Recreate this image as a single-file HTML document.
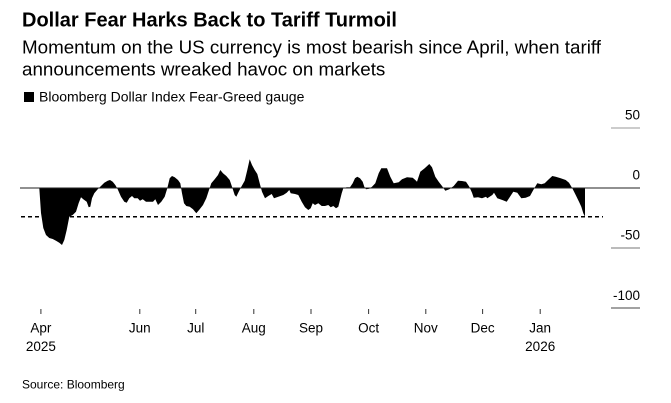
<!DOCTYPE html>
<html>
<head>
<meta charset="utf-8">
<style>
html,body{margin:0;padding:0;background:#fff;}
body{width:671px;height:403px;overflow:hidden;}
svg{display:block;}
text{font-family:"Liberation Sans",Arial,sans-serif;fill:#000;}
</style>
</head>
<body>
<svg width="671" height="403" viewBox="0 0 671 403" xmlns="http://www.w3.org/2000/svg">
  <rect x="0" y="0" width="671" height="403" fill="#fff"/>
  <!-- Title -->
  <text x="22" y="26.5" font-size="20" font-weight="bold">Dollar Fear Harks Back to Tariff Turmoil</text>
  <text x="22" y="53.5" font-size="18.8">Momentum on the US currency is most bearish since April, when tariff</text>
  <text x="22" y="75.5" font-size="18.8">announcements wreaked havoc on markets</text>
  <!-- Legend -->
  <rect x="24" y="92" width="10" height="10" fill="#000"/>
  <text x="39" y="101.5" font-size="14">Bloomberg Dollar Index Fear-Greed gauge</text>

  <!-- Right axis ticks & labels -->
  <rect x="611" y="127.5" width="29" height="1" fill="#999"/>
  <rect x="611" y="247.5" width="29" height="1" fill="#777"/>
  <rect x="611" y="307.5" width="29" height="1" fill="#444"/>
  <text x="640" y="119.5" font-size="13.5" text-anchor="end" fill="#222">50</text>
  <text x="640" y="179.5" font-size="13.5" text-anchor="end" fill="#222">0</text>
  <text x="640" y="239.5" font-size="13.5" text-anchor="end" fill="#222">-50</text>
  <text x="640" y="300" font-size="13.5" text-anchor="end" fill="#222">-100</text>

  <!-- Area -->
  <path fill="#000" d="M39.3,188 L41,213 L43.3,228 L46,235 L49.3,238 L52.7,239 L56,240.7 L59.3,242.7 L62,245 L64.3,240 L66.7,230 L69.3,216.7 L72.7,215 L76,211.7 L78.7,203 L81,197.3 L83.3,199.3 L86.7,201.7 L88.7,207.3 L90.3,206.7 L92,198.3 L94.3,193.3 L97.7,189.3 L101,186 L104.3,182.7 L107.7,180.7 L110,180 L112.7,181.7 L115.3,185 L117.7,189.3 L121,196.7 L124.3,201.7 L126.7,202.7 L129.3,198.3 L132,196 L134.3,198.3 L137.7,198.3 L140,200.7 L142.7,199.3 L146,201.7 L150,201.7 L153,201.7 L155.3,199.3 L158,205 L161.3,201.7 L164.7,196.7 L167.3,188.3 L169.7,178.3 L172,176 L174.7,177.3 L178,180 L180.3,183.3 L182,193.3 L184,203.3 L186.3,206 L189.7,206.7 L193,209.3 L196.3,213.3 L199.7,209.3 L203,205 L206.3,198.3 L209,190 L211.3,183.3 L214.7,179.3 L218,175 L220.3,170 L223,173.3 L226.3,176 L229.7,180 L232,186.7 L234.7,195 L236.3,196.7 L238.7,191.7 L241.3,186.7 L244.7,180.7 L247.3,170 L249.7,159.3 L252,165 L254.7,170 L257.3,174 L259.7,183.3 L262,191.7 L265,198.3 L268.3,196 L271.7,194 L274,198.3 L278.3,196.7 L283.3,195 L286.7,192.7 L289.3,190 L290.7,193.3 L295,194 L298.3,195 L301.7,201.7 L305,207.3 L308.3,210 L310.7,208.3 L312.7,203.3 L315,205 L318.3,203.3 L321.7,206 L325,206 L328.3,205 L330.7,207.3 L333.3,206 L336,208.3 L338.3,206.7 L340,200 L341.7,193.3 L343.3,188.3 L346.7,187.3 L350,187.3 L352.7,183.3 L355,178.3 L357.3,176.7 L360,178.3 L362.7,181.7 L364.3,186.7 L366,189.3 L369.3,188.7 L372,186.7 L375.3,183.3 L378.7,173.3 L381.3,168.3 L387,168.3 L390.3,176.7 L393.7,183.3 L398.7,182.3 L402,179.3 L407,177.3 L412.7,177.7 L415.3,180 L417,181.7 L420.3,171.7 L424.7,168.3 L429.3,164 L432,167.3 L435.3,176.7 L438.7,181.7 L442,186 L445.3,190.7 L449.3,189.3 L453.7,186 L458,180.7 L462,181 L466,181.7 L469.3,186.7 L472,192.7 L473.7,197.7 L478,197.3 L482,198.3 L486,196.7 L487.3,198.3 L492.3,195 L494,192.7 L497.3,198.3 L502.3,200 L506.7,201.7 L510,196.7 L513.3,191.7 L517.3,192.7 L521.3,198.3 L525.7,197.7 L530,196 L533.3,190 L537.3,183.3 L541.3,184.3 L544.7,183.3 L548,180 L552.3,176 L555.7,176.7 L560.7,178.3 L565.7,180 L569,182.7 L572.3,188.3 L575.7,195 L579,201.7 L581.3,206.7 L583.3,213.3 L585,216.7 L585,188 Z"/>

  <!-- Zero line -->
  <line x1="20" y1="188" x2="640" y2="188" stroke="#222" stroke-width="1"/>
  <!-- Dashed reference -->
  <line x1="21" y1="216.7" x2="603" y2="216.7" stroke="#000" stroke-width="1.5" stroke-dasharray="4,3"/>

  <!-- X axis ticks -->
  <g stroke="#333" stroke-width="1">
    <line x1="40.9" y1="309" x2="40.9" y2="314"/>
    <line x1="139.8" y1="309" x2="139.8" y2="314"/>
    <line x1="195.7" y1="309" x2="195.7" y2="314"/>
    <line x1="253.8" y1="309" x2="253.8" y2="314"/>
    <line x1="311" y1="309" x2="311" y2="314"/>
    <line x1="368.6" y1="309" x2="368.6" y2="314"/>
    <line x1="425.8" y1="309" x2="425.8" y2="314"/>
    <line x1="482.6" y1="309" x2="482.6" y2="314"/>
    <line x1="540.2" y1="309" x2="540.2" y2="314"/>
  </g>
  <g font-size="13.5" text-anchor="middle" fill="#222">
    <text x="40.9" y="332.5">Apr</text>
    <text x="139.8" y="332.5">Jun</text>
    <text x="195.7" y="332.5">Jul</text>
    <text x="253.8" y="332.5">Aug</text>
    <text x="311" y="332.5">Sep</text>
    <text x="368.6" y="332.5">Oct</text>
    <text x="425.8" y="332.5">Nov</text>
    <text x="482.6" y="332.5">Dec</text>
    <text x="540.2" y="332.5">Jan</text>
    <text x="40.9" y="351">2025</text>
    <text x="540.2" y="351">2026</text>
  </g>

  <!-- Source -->
  <text x="22" y="388.5" font-size="12" fill="#222">Source: Bloomberg</text>
</svg>
</body>
</html>
